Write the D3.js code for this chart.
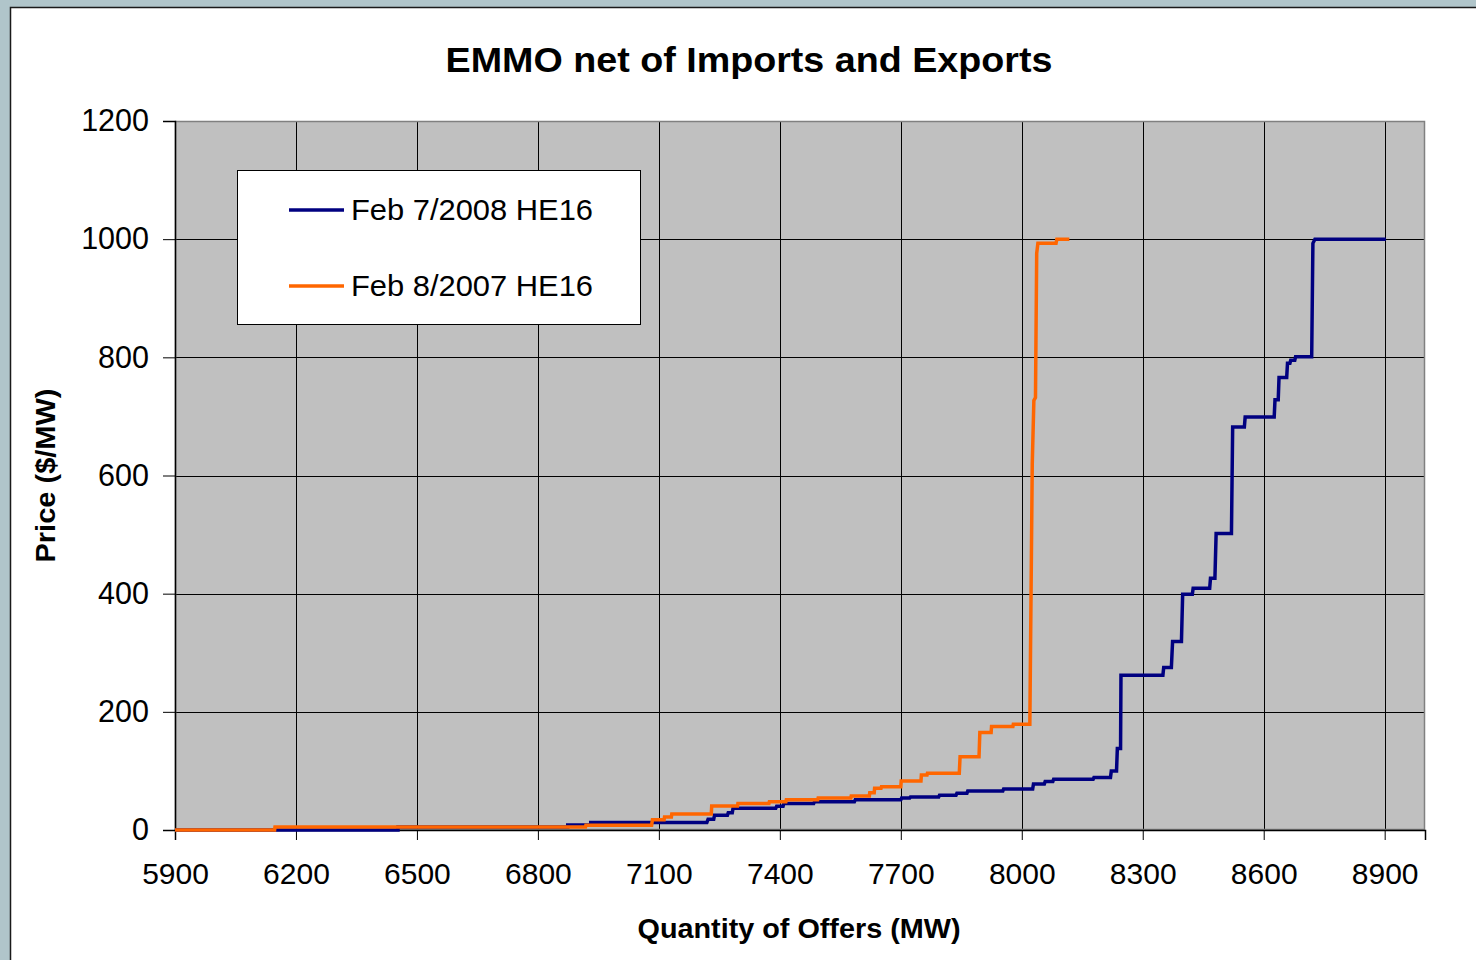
<!DOCTYPE html>
<html>
<head>
<meta charset="utf-8">
<script src="https://cdn.jsdelivr.net/npm/d3@7"></script>
<style>
  html, body { margin: 0; padding: 0; background: #b0c5ca; }
  svg { display: block; }
  text { font-family: "Liberation Sans", Arial, sans-serif; }
</style>
</head>
<body>
<svg id="chart" width="1476" height="960"></svg>
<script>
// ---- Data ----
const title = "EMMO net of Imports and Exports";
const xTitle = "Quantity of Offers (MW)";
const yTitle = "Price ($/MW)";
const xTicks = [5900, 6200, 6500, 6800, 7100, 7400, 7700, 8000, 8300, 8600, 8900];
const yTicks = [0, 200, 400, 600, 800, 1000, 1200];
const seriesNames = ["Feb 7/2008 HE16", "Feb 8/2007 HE16"];

// Feb 7/2008 HE16 offer curve (MW, $/MW)
const mw2008 = [5900, 6453, 6453, 6874, 6874, 6931, 6931, 7219, 7222, 7236, 7238, 7270, 7272, 7282, 7284, 7390, 7392, 7408, 7410, 7484, 7486, 7585, 7587, 7700, 7702, 7722, 7724, 7794, 7796, 7837, 7839, 7864, 7866, 7953, 7955, 8027, 8029, 8056, 8058, 8077, 8079, 8177, 8179, 8220, 8222, 8235, 8237, 8245, 8246, 8350, 8352, 8371, 8374, 8396, 8399, 8423, 8425, 8466, 8468, 8479, 8482, 8520, 8523, 8552, 8554, 8626, 8628, 8636, 8638, 8657, 8659, 8665, 8667, 8677, 8679, 8719, 8722, 8727, 8903];
const price2008 = [0, 0, 5, 5, 8.5, 8.5, 12.5, 12.5, 18, 18, 25, 25, 29, 29, 37, 37, 40, 40, 45, 45, 48, 48, 51, 51, 54, 54, 56, 56, 59, 59, 62, 62, 66, 66, 69.5, 69.5, 78, 78, 82, 82, 86, 86, 89, 89, 100, 100, 138, 138, 262, 262, 275, 275, 319, 319, 399, 399, 409, 409, 426, 426, 502, 502, 682, 682, 699, 699, 728, 728, 766, 766, 790, 790, 795, 795, 801, 801, 993, 1000, 1000];

// Feb 8/2007 HE16 offer curve (MW, $/MW)
const mw2007 = [5900, 6147, 6148, 6918, 6919, 7082, 7084, 7113, 7114, 7131, 7132, 7230, 7231, 7295, 7296, 7373, 7374, 7415, 7416, 7494, 7495, 7576, 7577, 7622, 7623, 7634, 7635, 7651, 7652, 7700, 7701, 7750, 7751, 7765, 7766, 7845, 7847, 7894, 7896, 7924, 7925, 7978, 7979, 8020, 8026, 8030, 8034, 8037, 8040, 8085, 8087, 8118];
const price2007 = [0, 0, 5, 5, 8, 8, 17.5, 17.5, 22, 22, 27, 27, 40.5, 40.5, 45, 45, 48, 48, 51, 51, 54, 54, 57.5, 57.5, 63, 63, 70.5, 70.5, 73, 73, 83, 83, 93, 93, 96, 96, 124, 124, 165, 165, 175, 175, 179, 179, 620, 727, 732, 976, 993, 993, 1000, 1000];

const colors = ["#000080", "#ff6600"];

// ---- Layout ----
const svg = d3.select("#chart");
const W = 1476, H = 960;
const plot = { left: 175, right: 1425, top: 121, bottom: 830 };

// chart area (white) with dark border
svg.append("rect").attr("x", 10.5).attr("y", 7.5).attr("width", W).attr("height", H)
  .attr("fill", "#ffffff").attr("stroke", "#1a1a1a").attr("stroke-width", 1.5);

const x = d3.scaleLinear().domain([5900, 9000]).range([plot.left, plot.right]);
const y = d3.scaleLinear().domain([0, 1200]).range([plot.bottom, plot.top]);

// plot background
svg.append("rect").attr("x", plot.left).attr("y", plot.top)
  .attr("width", plot.right - plot.left).attr("height", plot.bottom - plot.top)
  .attr("fill", "#c0c0c0");

// gridlines
svg.append("g").selectAll("line").data(xTicks.slice(1)).join("line")
  .attr("x1", d => Math.round(x(d)) + 0.5).attr("x2", d => Math.round(x(d)) + 0.5)
  .attr("y1", plot.top).attr("y2", plot.bottom)
  .attr("stroke", "#000").attr("stroke-width", 1);
svg.append("g").selectAll("line").data(yTicks.slice(1, -1)).join("line")
  .attr("x1", plot.left).attr("x2", plot.right)
  .attr("y1", d => Math.round(y(d)) + 0.5).attr("y2", d => Math.round(y(d)) + 0.5)
  .attr("stroke", "#000").attr("stroke-width", 1);

// plot border
svg.append("rect").attr("x", plot.left + 0.5).attr("y", plot.top + 0.5)
  .attr("width", plot.right - plot.left - 1).attr("height", plot.bottom - plot.top - 1)
  .attr("fill", "none").attr("stroke", "#808080").attr("stroke-width", 1.5);

// axes
const xAxis = d3.axisBottom(x).tickValues(xTicks).tickSize(10).tickPadding(23).tickFormat(d3.format("d"));
const gx = svg.append("g").attr("transform", `translate(0,${plot.bottom})`).call(xAxis);
gx.select(".domain").attr("stroke", "#000").attr("stroke-width", 1.5);
gx.selectAll(".tick line").attr("stroke", "#000");
gx.selectAll(".tick text").attr("font-size", 30).attr("fill", "#000")
  .attr("font-family", "Liberation Sans, Arial, sans-serif");

const yAxis = d3.axisLeft(y).tickValues(yTicks).tickSize(12).tickPadding(14).tickFormat(d3.format("d"));
const gy = svg.append("g").attr("transform", `translate(${plot.left},0)`).call(yAxis);
gy.select(".domain").attr("stroke", "#000").attr("stroke-width", 1.5);
gy.selectAll(".tick line").attr("stroke", "#000");
gy.selectAll(".tick text").attr("font-size", 30.5).attr("fill", "#000")
  .attr("font-family", "Liberation Sans, Arial, sans-serif");

// series
const line = d3.line().x(d => x(d[0])).y(d => y(d[1]));
const s2008 = mw2008.map((m, i) => [m, price2008[i]]);
const s2007 = mw2007.map((m, i) => [m, price2007[i]]);
[s2008, s2007].forEach((s, i) => {
  svg.append("path").datum(s).attr("d", line)
    .attr("fill", "none").attr("stroke", colors[i]).attr("stroke-width", 3.5)
    .attr("stroke-linejoin", "miter").attr("stroke-linecap", "butt");
});

// title
svg.append("text").attr("x", 749).attr("y", 72).attr("text-anchor", "middle")
  .attr("font-size", 35).attr("font-weight", "bold")
  .attr("textLength", 607).attr("lengthAdjust", "spacingAndGlyphs").text(title);

// axis titles
svg.append("text").attr("x", 799).attr("y", 938).attr("text-anchor", "middle")
  .attr("font-size", 28).attr("font-weight", "bold")
  .attr("textLength", 323).attr("lengthAdjust", "spacingAndGlyphs").text(xTitle);
svg.append("text").attr("transform", `translate(55,${(plot.top + plot.bottom) / 2}) rotate(-90)`)
  .attr("text-anchor", "middle").attr("font-size", 28).attr("font-weight", "bold")
  .attr("textLength", 174).attr("lengthAdjust", "spacingAndGlyphs").text(yTitle);

// legend
const lg = svg.append("g");
lg.append("rect").attr("x", 237.5).attr("y", 170.5).attr("width", 403).attr("height", 154)
  .attr("fill", "#fff").attr("stroke", "#000").attr("stroke-width", 1);
seriesNames.forEach((n, i) => {
  const ly = 210 + i * 76;
  lg.append("line").attr("x1", 289).attr("x2", 344).attr("y1", ly).attr("y2", ly)
    .attr("stroke", colors[i]).attr("stroke-width", 3.5);
  lg.append("text").attr("x", 351).attr("y", ly + 10).attr("font-size", 29.5).attr("fill", "#000")
    .attr("textLength", 242).attr("lengthAdjust", "spacingAndGlyphs").text(n);
});
</script>
</body>
</html>
